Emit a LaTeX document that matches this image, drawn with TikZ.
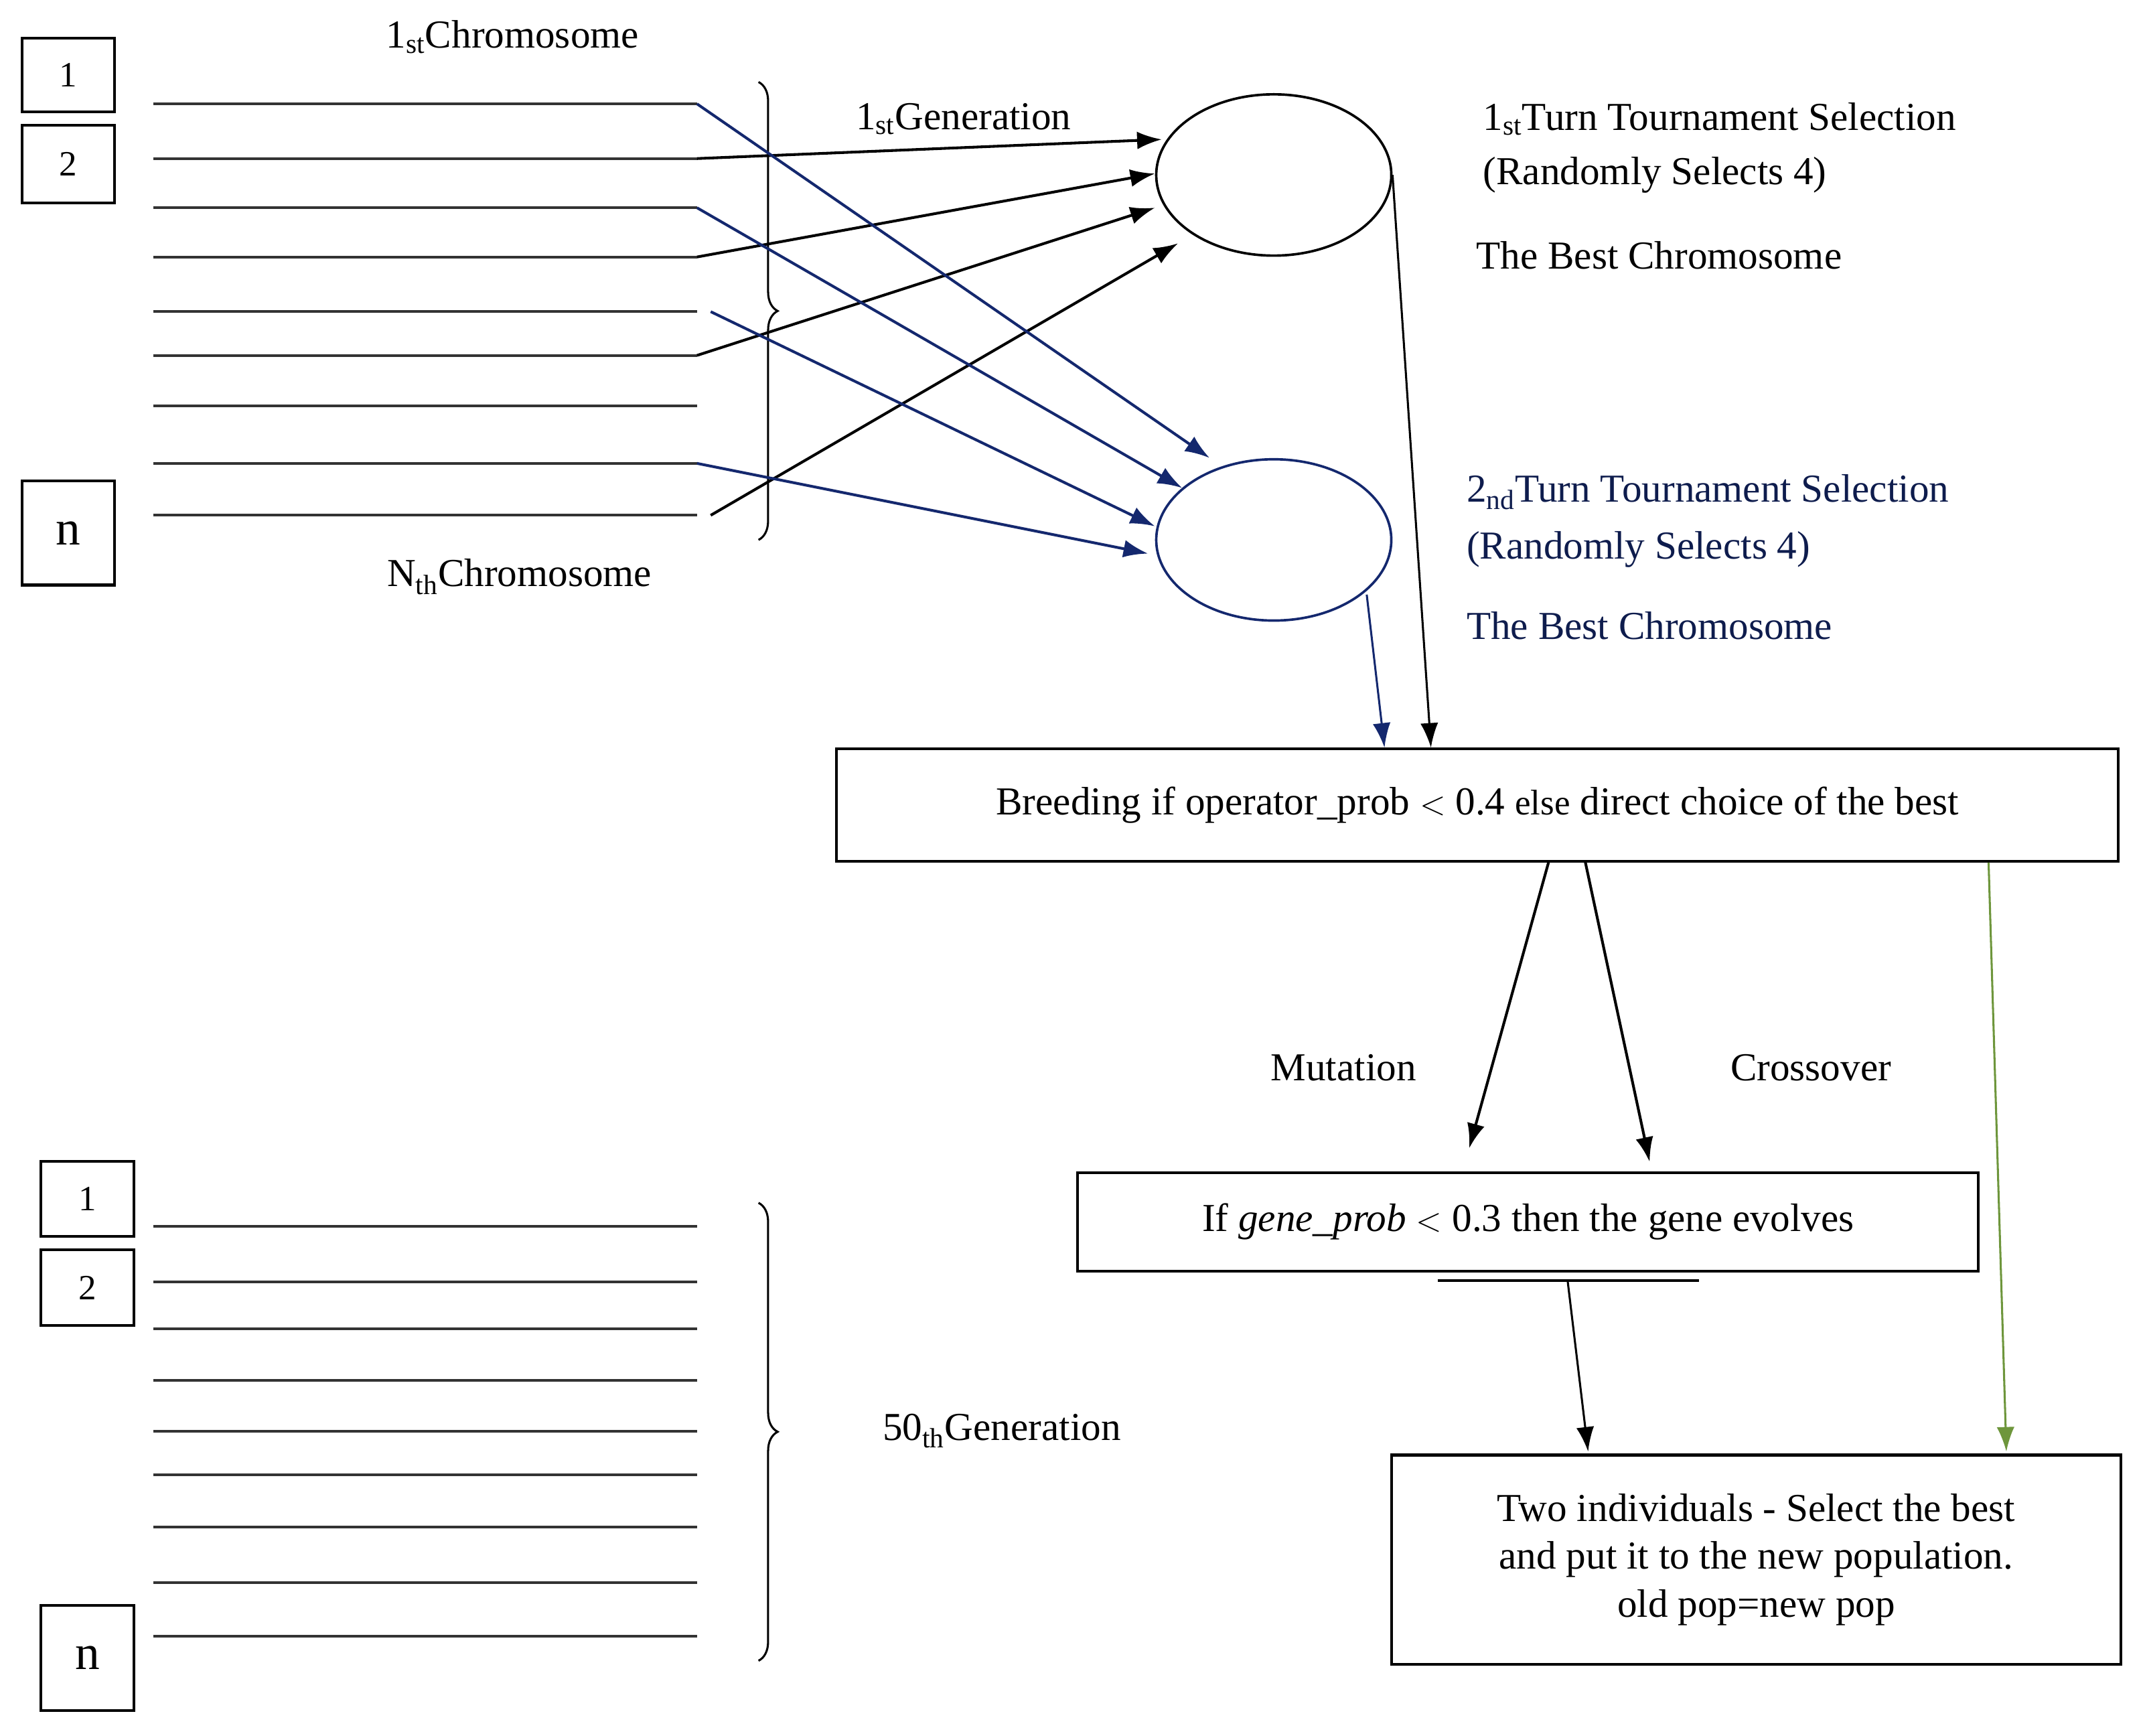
\documentclass[tikz,border=0pt]{standalone}
\usepackage{fontspec}
\setmainfont{Liberation Serif}
\usetikzlibrary{arrows.meta,decorations.pathreplacing,shapes.geometric}
\definecolor{navy}{RGB}{20,40,110}
\definecolor{grn}{RGB}{110,150,60}
\begin{document}
\begin{tikzpicture}[x=1pt,y=-1pt,
  txt/.style={font=\fontsize{29}{35}\selectfont,inner sep=0pt},
  num/.style={draw,line width=2pt,minimum width=68pt,font=\fontsize{26}{30}\selectfont,inner sep=0pt},
  chr/.style={line width=2pt,draw=black!80},
  ar/.style={line width=2pt,-{Latex[length=18pt,width=13pt]}},
  ell/.style={draw,ellipse,line width=1.8pt,minimum width=172pt,minimum height=118pt,inner sep=0pt},
  box/.style={draw,line width=2pt,inner sep=0pt,font=\fontsize{29}{35}\selectfont,align=center}]
\useasboundingbox (0,0) rectangle (1568,1270);
% top boxes
\node[num,minimum height=54pt] (b1) at (50,55) {1};
\node[num,minimum height=57pt] (b2) at (50,120) {2};
\node[num,minimum height=76pt,font=\fontsize{36}{40}\selectfont] (bn) at (50,390) {n};
% top lines
\foreach \y [count=\i] in {76,116,152,188,228,260,297,339,377}{
  \coordinate (s\i) at (112,\y); \coordinate (e\i) at (510,\y);
  \draw[chr] (s\i) -- (e\i);}
\draw[line width=1.5pt,decorate,decoration={brace,amplitude=14pt}] (555,60) -- (555,395);
\node[txt] (c1) at (375,27) {1\textsubscript{st}Chromosome};
\node[txt] (cn) at (380,422) {N\textsubscript{th}Chromosome};
\node[txt] (g1) at (705,87) {1\textsubscript{st}Generation};
% ellipses
\node[ell] (E1) at (932,128) {};
\node[ell,draw=navy] (E2) at (932,395) {};
\coordinate (t1) at (850,102); \coordinate (t2) at (845,127);
\coordinate (t3) at (845,152); \coordinate (t4) at (862,178);
\coordinate (u1) at (885,335); \coordinate (u2) at (865,357);
\coordinate (u3) at (845,385); \coordinate (u4) at (840,405);
\draw[ar] (e2) -- (t1);
\draw[ar] (e4) -- (t2);
\draw[ar] (e6) -- (t3);
\draw[ar] (520,377) coordinate (x9) -- (t4);
\draw[ar,navy] (e1) -- (u1);
\draw[ar,navy] (e3) -- (u2);
\draw[ar,navy] (520,228) coordinate (x5) -- (u3);
\draw[ar,navy] (e8) -- (u4);
% right text
\node[txt,anchor=west] (r1) at (1085,87) {1\textsubscript{st}Turn Tournament Selection};
\node[txt,anchor=west] (r2) at (1085,128) {(Randomly Selects 4)};
\node[txt,anchor=west] (r3) at (1080,187) {The Best Chromosome};
\node[txt,anchor=west,text=navy!70!black] (q1) at (1073,360) {2\textsubscript{nd}Turn Tournament Selection};
\node[txt,anchor=west,text=navy!70!black] (q2) at (1073,402) {(Randomly Selects 4)};
\node[txt,anchor=west,text=navy!70!black] (q3) at (1073,458) {The Best Chromosome};
% breeding box
\node[box,minimum width=938pt,minimum height=82pt] (B) at (1081,589) {Breeding if operator\_prob $<$ 0.4 {\fontsize{26}{30}\selectfont else} direct choice of the best};
\draw[line width=1.5pt,-{Latex[length=18pt,width=13pt]}] (E1.east) -- (B.north -| 1047,0);
\draw[line width=1.5pt,navy,-{Latex[length=18pt,width=13pt]}] (1000,435) -- (B.north -| 1013,0);
% gene box
\node[box,minimum width=659pt,minimum height=72pt] (G) at (1118,894) {If \textit{gene\_prob} $<$ 0.3 then the gene evolves};
\coordinate (ul1) at (1052,937); \coordinate (ul2) at (1243,937);
\draw[line width=2pt] (ul1) -- (ul2);
\draw[ar] (B.south -| 1133,0) -- (1075,840) coordinate (m1);
\draw[ar] (B.south -| 1160,0) -- (1207,850) coordinate (m2);
\node[txt] (mut) at (983,781) {Mutation};
\node[txt] (cro) at (1325,781) {Crossover};
% final box
\node[box,minimum width=534pt,minimum height=153pt] (F) at (1285,1141) {Two individuals - Select the best\\and put it to the new population.\\old pop=new pop};
\draw[ar,line width=1.5pt] (1147,937) -- (1162,1062);
\draw[line width=1.5pt,grn,-{Latex[length=18pt,width=13pt]}] (B.south -| 1455,0) -- (1468,1062);
% bottom
\node[num,minimum height=55pt] (c1b) at (64,877) {1};
\node[num,minimum height=55pt] (c2b) at (64,942) {2};
\node[num,minimum height=77pt,font=\fontsize{36}{40}\selectfont] (cnb) at (64,1213) {n};
\foreach \y [count=\i] in {897,938,972,1010,1047,1079,1117,1158,1197}{
  \coordinate (p\i) at (112,\y); \coordinate (q\i) at (510,\y);
  \draw[chr] (p\i) -- (q\i);}
\draw[line width=1.5pt,decorate,decoration={brace,amplitude=14pt}] (555,880) -- (555,1215);
\node[txt] (g50) at (733,1047) {50\textsubscript{th}Generation};
\end{tikzpicture}
\end{document}
